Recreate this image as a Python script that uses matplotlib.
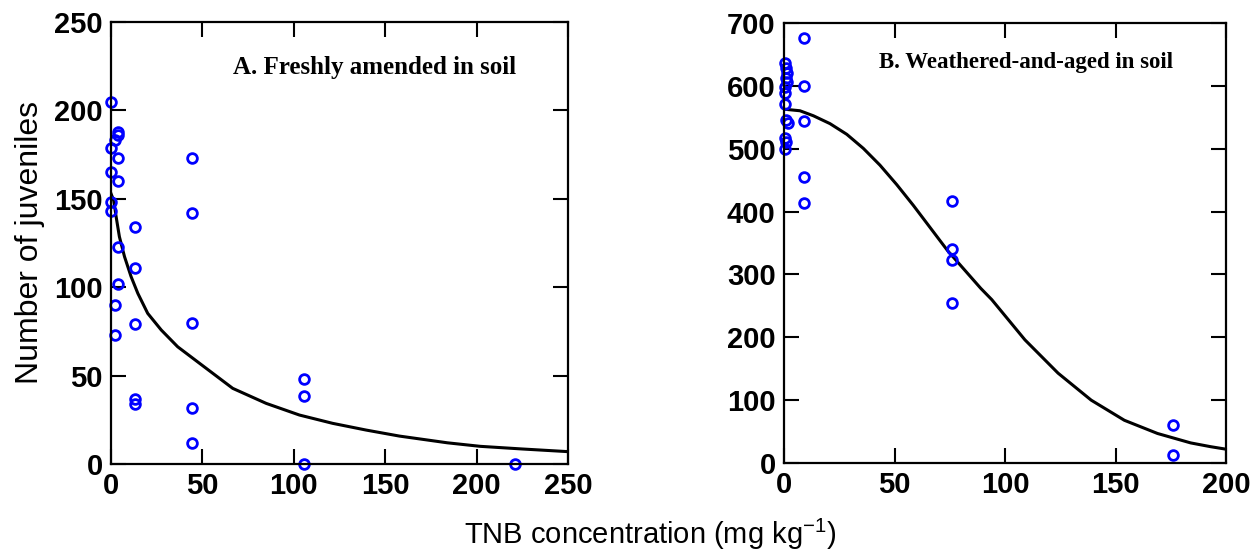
import numpy as np
import matplotlib
matplotlib.use("Agg")
import matplotlib.pyplot as plt

plt.rcParams['font.family'] = ['Liberation Sans', 'DejaVu Sans']
plt.rcParams['mathtext.fontset'] = 'custom'
plt.rcParams['mathtext.rm'] = 'Liberation Sans'
plt.rcParams['mathtext.it'] = 'Liberation Sans'

# panel A - freshly amended (points)
a_x = [0, 3.8, 3.8, 2.4, 0, 3.8, 0, 3.8, 0, 0, 3.8, 3.8, 2.4, 2.4,
       13.3, 13.3, 13.3, 13.3, 13.3,
       44.3, 44.3, 44.3, 44.3, 44.3,
       105.6, 105.6, 105.6, 221]
a_y = [205, 188, 186, 183, 179, 173, 165, 160, 148, 143, 123, 102, 90, 73,
       134, 111, 79, 37, 34,
       173, 142, 80, 31.5, 12,
       48, 38.6, 0, 0]
# panel A fitted curve
a_fit_x = [0, 1.5, 2.8, 4.6, 7.4, 11, 14.7, 20.1, 27.5, 36.5, 48.4, 66.6, 84.9,
           103.1, 121.3, 139.6, 157.8, 184, 202, 225, 250]
a_fit_y = [153, 149, 140, 128.6, 117.3, 106, 96.5, 85.2, 75.8, 66.3, 57, 42.8, 34.3,
           27.7, 23, 19.2, 15.8, 12, 10, 8.5, 7]

# panel B - weathered and aged (points)
b_x = [0.5, 1, 1.5, 1, 1.5, 0.5, 0.5, 0.5, 1, 2, 0.5, 1, 0.5,
       9, 9, 9, 9, 9,
       76, 76, 76, 76,
       176, 176]
b_y = [636, 628, 620, 612, 606, 598, 588, 572, 546, 541, 517, 511, 499,
       677, 600, 544, 455, 413,
       417, 340, 323, 255,
       60, 13]
# panel B fitted curve
b_fit_x = [0, 7.2, 13.3, 20.8, 28.4, 35.9, 43.4, 51, 58.5, 74, 89, 94, 109,
           124, 139, 154, 169, 184, 193, 200]
b_fit_y = [563, 560.5, 552.5, 540, 523, 500.6, 474, 443, 410, 338, 278, 260, 196,
           143, 100, 68, 47, 32, 26, 22]

a_ticks = [0, 50, 100, 150, 200, 250]
b_xticks = [0, 50, 100, 150, 200]
b_yticks = [0, 100, 200, 300, 400, 500, 600, 700]

fig = plt.figure(figsize=(12.54, 5.52), dpi=100)
ax1 = fig.add_axes([0.0885, 0.1594, 0.3644, 0.8007])
ax2 = fig.add_axes([0.6252, 0.1612, 0.3525, 0.797])


def style(ax):
    for s in ax.spines.values():
        s.set_linewidth(1.6)
    ax.tick_params(direction='in', length=11, width=1.5, top=True, right=True,
                   labelsize=21, pad=6)
    for lab in ax.get_xticklabels() + ax.get_yticklabels():
        lab.set_fontweight('bold')


ax1.plot(a_fit_x, a_fit_y, color='black', lw=2.2, solid_joinstyle='round')
ax1.plot(a_x, a_y, 'o', mfc='none', mec='#0000ff', ms=7, mew=2, clip_on=False)
ax1.set_xlim(0, 250)
ax1.set_ylim(0, 250)
ax1.set_xticks(a_ticks)
ax1.set_yticks(a_ticks)
style(ax1)
ax1.text(0.576, 0.896, 'A. Freshly amended in soil', transform=ax1.transAxes,
         ha='center', va='center', family='Liberation Serif', fontweight='bold', fontsize=18)

ax2.plot(b_fit_x, b_fit_y, color='black', lw=2.2, solid_joinstyle='round')
ax2.plot(b_x, b_y, 'o', mfc='none', mec='#0000ff', ms=7, mew=2, clip_on=False)
ax2.set_xlim(0, 200)
ax2.set_ylim(0, 700)
ax2.set_xticks(b_xticks)
ax2.set_yticks(b_yticks)
style(ax2)
ax2.text(0.547, 0.911, 'B. Weathered-and-aged in soil', transform=ax2.transAxes,
         ha='center', va='center', family='Liberation Serif', fontweight='bold', fontsize=16.5)

fig.text(30 / 1254, 0.56, 'Number of juveniles', rotation=90, ha='center', va='center', fontsize=23)
fig.text(650 / 1254, 1 - 534 / 552, r'TNB concentration (mg kg$^{-1}$)', ha='center', va='center', fontsize=21)

fig.savefig('out.png', dpi=100)
